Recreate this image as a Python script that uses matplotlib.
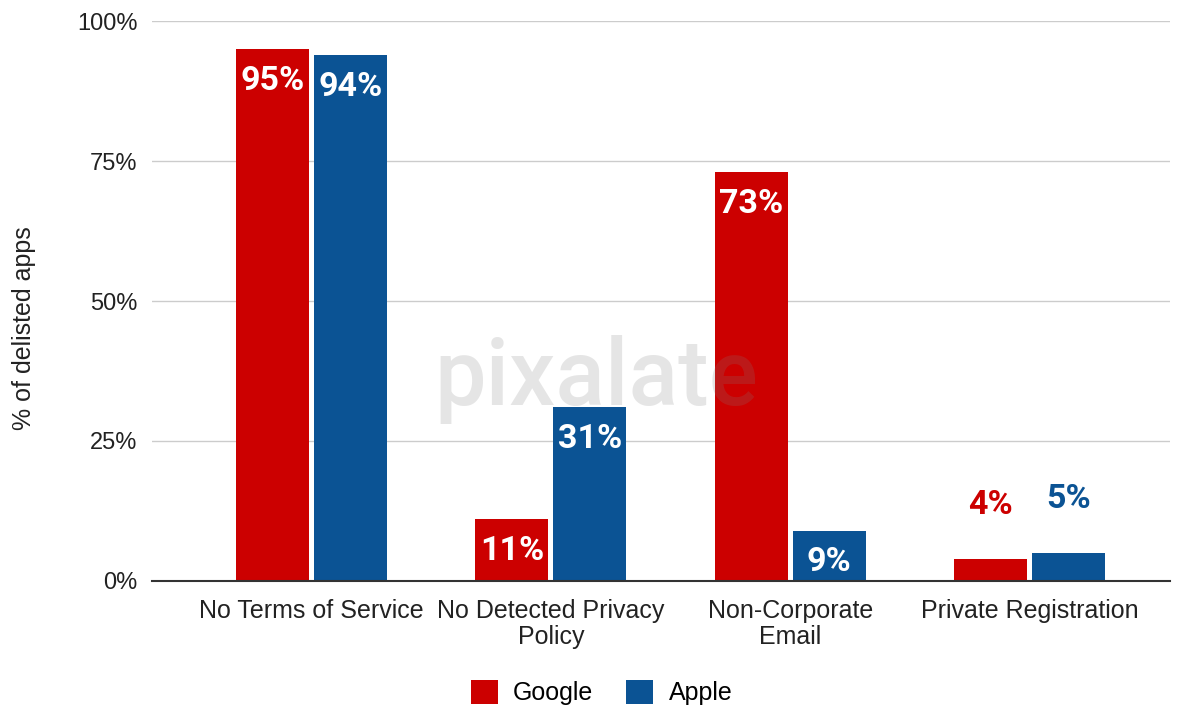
import matplotlib.pyplot as plt
import numpy as np

categories = ["No Terms of Service", "No Detected Privacy\nPolicy",
              "Non-Corporate\nEmail", "Private Registration"]
google = [95, 11, 73, 4]
apple = [94, 31, 9, 5]
yticks = [0, 25, 50, 75, 100]

RED = "#cc0000"
BLUE = "#0b5394"

plt.rcParams['font.family'] = ['Liberation Sans', 'DejaVu Sans']

fig = plt.figure(figsize=(11.84, 7.05), dpi=100)
ax = fig.add_axes([0.128, 0.176, 0.86, 0.794])

x = np.arange(len(categories))
w = 0.305
off = 0.163
bg = ax.bar(x - off, google, w, color=RED, label="Google", zorder=2)
ba = ax.bar(x + off, apple, w, color=BLUE, label="Apple", zorder=2)

for bars, vals, col in [(bg, google, RED), (ba, apple, BLUE)]:
    for b, v in zip(bars, vals):
        cx = b.get_x() + b.get_width() / 2
        if v >= 9:
            ax.text(cx, v - 5.7, f"{v}%", ha="center", va="center", color="white",
                    fontsize=24.5, fontweight="bold", family="Roboto", zorder=4)
        else:
            ax.text(cx, v + 9.6, f"{v}%", ha="center", va="center", color=col,
                    fontsize=24.5, fontweight="bold", family="Roboto", zorder=4)

# watermark
ax.text(1.19, 31.5, "pixalate", ha="center", va="baseline", fontsize=66,
        fontweight="medium", color="#808080", alpha=0.2, family="Roboto", zorder=3)

ax.set_xlim(-0.669, 3.586)
ax.set_ylim(0, 100)
ax.set_yticks(yticks)
ax.set_yticklabels([f"{t}%" for t in yticks], fontsize=17, color="#222222")
ax.set_xticks(x)
ax.set_xticklabels(categories, fontsize=18, color="#222222", linespacing=1.12)
ax.tick_params(axis="y", length=0, pad=10)
ax.tick_params(axis="x", length=0, pad=13)
ax.grid(axis="y", color="#cccccc", linewidth=1, zorder=0)
for s in ["top", "right", "left"]:
    ax.spines[s].set_visible(False)
ax.spines["bottom"].set_color("#333333")
ax.spines["bottom"].set_linewidth(1.5)
ax.spines["bottom"].set_zorder(5)
ax.set_ylabel("% of delisted apps", fontsize=18, color="#222222")
ax.yaxis.set_label_coords(-0.113, 0.452)

fig.legend(handles=[bg, ba], labels=["Google", "Apple"], loc="center",
           bbox_to_anchor=(0.508, 0.018), ncol=2, frameon=False, fontsize=18,
           handlelength=1.1, handleheight=1.1, columnspacing=1.3, handletextpad=0.6)

fig.savefig("out.png", dpi=100)
